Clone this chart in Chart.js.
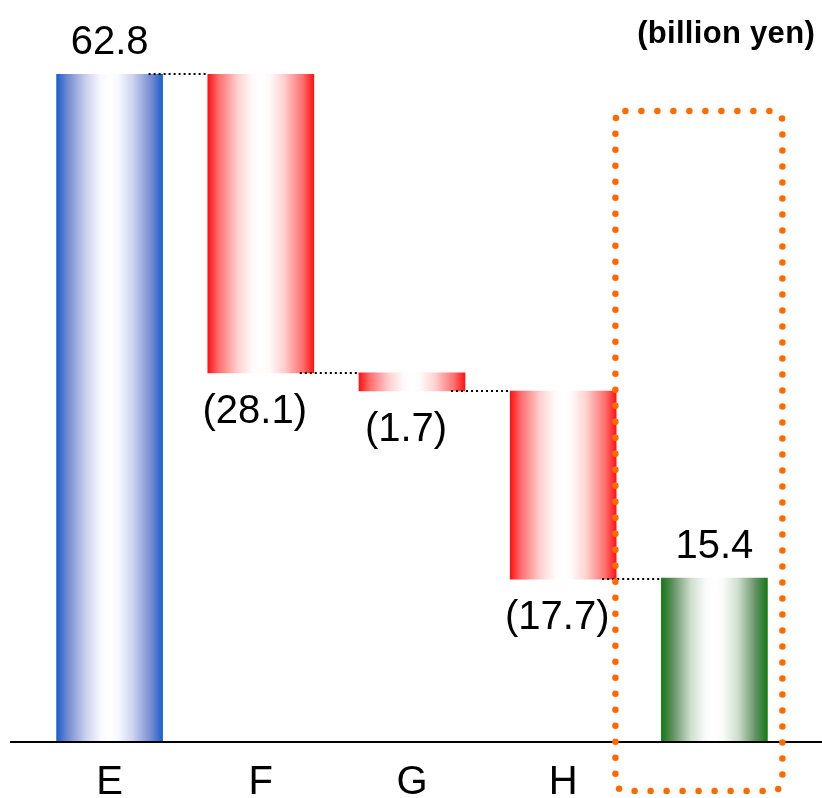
<!DOCTYPE html>
<html>
<head>
<meta charset="utf-8">
<script src="https://cdn.jsdelivr.net/npm/chart.js@4/dist/chart.umd.min.js"></script>
<style>
  html, body { margin: 0; padding: 0; background: #fff; }
  #wrap { width: 822px; height: 798px; position: relative; }
</style>
</head>
<body>
<div id="wrap"><canvas id="c"></canvas></div>
<script>
// Waterfall: opening amount, three reductions, closing amount (billion yen)
const categories = ['E', 'F', 'G', 'H', ''];
const steps = [62.8, -28.1, -1.7, -17.7];
const closing = 15.4;
const unitLabel = '(billion yen)';

// gradient ramps per bar: [edge, near edge, light, core]
const blueRamp = ['#1a5fd0', '#7088cf', '#cdd2ee', '#f8f9fe'];
const redRamp = ['#ff1212', '#ff6c6c', '#ffcfcf', '#fffafa'];
const greenRamp = ['#147a14', '#5c8e5c', '#d0dfd0', '#fafcfa'];
const barRamps = [blueRamp, redRamp, redRamp, redRamp, greenRamp];

// floating ranges [low, high] for each bar
const ranges = [];
let running = 0;
steps.forEach(v => {
  const start = running;
  running = +(running + v).toFixed(1);
  ranges.push([Math.min(start, running), Math.max(start, running)]);
});
ranges.push([0, closing]);
const amounts = [...steps, closing];
const fmt = v => v < 0 ? '(' + Math.abs(v).toFixed(1) + ')' : v.toFixed(1);

const FONT = '"Liberation Sans", Arial, Helvetica, sans-serif';
const BAR_W = 106;

// horizontal gradient: saturated edges fading to a broad white core
function barFill(context) {
  const chart = context.chart;
  const i = context.dataIndex;
  const [edge, near, light, core] = barRamps[i];
  if (!chart.chartArea || !chart.scales.x) return edge;
  const cx = chart.scales.x.getPixelForValue(i);
  const g = chart.ctx.createLinearGradient(cx - BAR_W / 2, 0, cx + BAR_W / 2, 0);
  g.addColorStop(0, edge);
  g.addColorStop(0.1, near);
  g.addColorStop(0.28, light);
  g.addColorStop(0.42, core);
  g.addColorStop(0.5, '#ffffff');
  g.addColorStop(0.58, core);
  g.addColorStop(0.72, light);
  g.addColorStop(0.9, near);
  g.addColorStop(1, edge);
  return g;
}

const waterfallDecor = {
  id: 'waterfallDecor',
  afterDatasetsDraw(chart) {
    const { ctx, chartArea, scales: { y } } = chart;
    const bars = chart.getDatasetMeta(0).data;
    ctx.save();

    // dotted connectors between consecutive bars
    ctx.strokeStyle = '#000';
    ctx.lineWidth = 2;
    ctx.setLineDash([2, 3]);
    for (let i = 0; i < bars.length - 1; i++) {
      const level = (i === 0 || amounts[i] >= 0) ? ranges[i][1] : ranges[i][0];
      const yy = Math.round(y.getPixelForValue(level));
      const x0 = bars[i].x + bars[i].width / 2 - 14;
      const x1 = bars[i + 1].x - bars[i + 1].width / 2;
      ctx.beginPath();
      ctx.moveTo(x0, yy);
      ctx.lineTo(x1, yy);
      ctx.stroke();
    }

    // baseline
    ctx.setLineDash([]);
    ctx.lineWidth = 2;
    const y0 = y.getPixelForValue(0);
    ctx.beginPath();
    ctx.moveTo(10, y0);
    ctx.lineTo(chart.width, y0);
    ctx.stroke();

    // value labels
    ctx.fillStyle = '#000';
    ctx.font = '40px ' + FONT;
    ctx.textAlign = 'center';
    ctx.textBaseline = 'alphabetic';
    bars.forEach((b, i) => {
      const v = amounts[i];
      const top = y.getPixelForValue(ranges[i][1]);
      const bottom = y.getPixelForValue(ranges[i][0]);
      if (v < 0) {
        ctx.fillText(fmt(v), b.x - 6, bottom + 50);
      } else {
        ctx.fillText(fmt(v), b.x, top - 20);
      }
    });

    // dotted highlight frame around the closing bar
    const last = bars[bars.length - 1];
    const left = last.x - 99, right = last.x + 68;
    const fTop = chartArea.top + 37, fBottom = chartArea.bottom + 49;
    ctx.strokeStyle = '#ff6a00';
    ctx.lineWidth = 6.5;
    ctx.lineCap = 'round';
    ctx.setLineDash([0, 16]);
    ctx.beginPath();
    ctx.roundRect(left, fTop, right - left, fBottom - fTop, 10);
    ctx.stroke();

    // unit caption
    ctx.setLineDash([]);
    ctx.fillStyle = '#000';
    ctx.font = 'bold 31px ' + FONT;
    ctx.letterSpacing = '0.3px';
    ctx.textAlign = 'right';
    ctx.fillText(unitLabel, 815, 43);
    ctx.restore();
  }
};

new Chart(document.getElementById('c'), {
  type: 'bar',
  data: {
    labels: categories,
    datasets: [{
      data: ranges,
      backgroundColor: barFill,
      borderWidth: 0,
      barThickness: BAR_W
    }]
  },
  options: {
    responsive: true,
    maintainAspectRatio: false,
    animation: false,
    layout: { padding: { top: 74, left: 34, right: 32, bottom: -26 } },
    plugins: { legend: { display: false }, tooltip: { enabled: false } },
    scales: {
      x: {
        grid: { display: false, drawTicks: false },
        border: { display: false },
        ticks: {
          color: '#000',
          padding: 25,
          font: { family: FONT, size: 40, lineHeight: 0.8 }
        }
      },
      y: { display: false, min: 0, max: steps[0] }
    }
  },
  plugins: [waterfallDecor]
});
</script>
</body>
</html>
